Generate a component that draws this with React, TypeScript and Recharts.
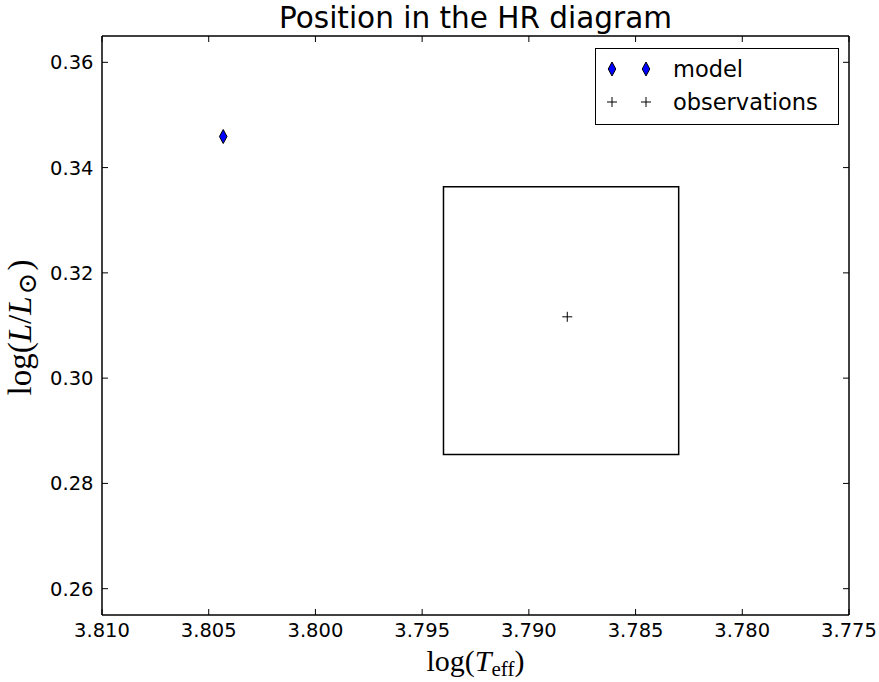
import React from 'react';
import {
    ScatterChart,
    Scatter,
    XAxis,
    YAxis,
    ReferenceArea,
    Legend,
    Label,
} from 'recharts';

// log Teff / log L of the best model and of the observed star
const modelTeff = [3.80432];
const modelLum = [0.3459];
const obsTeff = [3.7882];
const obsLum = [0.31165];

// 1-sigma box around the observation
const obsBoxTeff = [3.794, 3.78298];
const obsBoxLum = [0.28549, 0.33636];

const teffTicks = [3.775, 3.78, 3.785, 3.79, 3.795, 3.8, 3.805, 3.81];
const lumTicks = [0.26, 0.28, 0.3, 0.32, 0.34, 0.36];
const teffDomain = [3.775, 3.81];
const lumDomain = [0.255, 0.365];

const modelData = modelTeff.map((t, i) => ({ teff: t, lum: modelLum[i] }));
const obsData = obsTeff.map((t, i) => ({ teff: t, lum: obsLum[i] }));

const SANS = '"DejaVu Sans", sans-serif';
const SERIF = '"Liberation Serif", "DejaVu Serif", serif';
const TICK_LEN = 6;

const Diamond = ({ cx, cy }: { cx: number; cy: number }) => (
    <polygon
        points={`${cx},${cy - 7} ${cx + 3.8},${cy} ${cx},${cy + 7} ${cx - 3.8},${cy}`}
        fill="#0000ff"
        stroke="#000"
        strokeWidth={1}
    />
);

const Plus = ({ cx, cy }: { cx: number; cy: number }) => (
    <g stroke="#000" strokeWidth={1}>
        <line x1={cx - 5} x2={cx + 5} y1={cy} y2={cy} />
        <line x1={cx} x2={cx} y1={cy - 5} y2={cy + 5} />
    </g>
);

const markers: Record<string, (cx: number, cy: number) => React.ReactNode> = {
    model: (cx, cy) => <Diamond cx={cx} cy={cy} />,
    observations: (cx, cy) => <Plus cx={cx} cy={cy} />,
};

const BottomTick = (props: any) => {
    const { x, y, payload } = props;
    return (
        <g>
            <line x1={x} x2={x} y1={y} y2={y - TICK_LEN} stroke="#000" strokeWidth={1} />
            <text x={x} y={y + 22} textAnchor="middle" fontFamily={SANS} fontSize={19.5} fill="#000">
                {payload.value.toFixed(3)}
            </text>
        </g>
    );
};

const TopTick = (props: any) => {
    const { x, y } = props;
    return <line x1={x} x2={x} y1={y} y2={y + TICK_LEN} stroke="#000" strokeWidth={1} />;
};

const LeftTick = (props: any) => {
    const { x, y, payload } = props;
    return (
        <g>
            <line x1={x} x2={x + TICK_LEN} y1={y} y2={y} stroke="#000" strokeWidth={1} />
            <text x={x - 8.5} y={y} dy="0.36em" textAnchor="end" fontFamily={SANS} fontSize={19.5} fill="#000">
                {payload.value.toFixed(2)}
            </text>
        </g>
    );
};

const RightTick = (props: any) => {
    const { x, y } = props;
    return <line x1={x} x2={x - TICK_LEN} y1={y} y2={y} stroke="#000" strokeWidth={1} />;
};

const LegendBox = (props: any) => {
    const items = (props.payload || []).filter((item: any) => markers[item.value]);
    return (
        <div
            style={{
                width: 244,
                height: 77,
                border: '1.5px solid #000',
                boxSizing: 'border-box',
                background: '#fff',
            }}
        >
            <svg width={241} height={74} style={{ display: 'block' }}>
                {items.map((item: any, i: number) => {
                    const cy = 20 + i * 33;
                    const draw = markers[item.value];
                    return (
                        <g key={item.value}>
                            {draw(16, cy)}
                            {draw(50, cy)}
                            <text x={77} y={cy} dy="0.36em" fontFamily={SANS} fontSize={22.5} fill="#000">
                                {item.value}
                            </text>
                        </g>
                    );
                })}
            </svg>
        </div>
    );
};

const App: React.FC = () => {
    return (
        <div style={{ position: 'absolute', left: 0, top: 0, background: '#fff' }}>
            <ScatterChart width={879} height={682} margin={{ top: 35, right: 29, bottom: 0, left: 0 }}>
                <XAxis
                    dataKey="teff"
                    type="number"
                    domain={teffDomain}
                    ticks={teffTicks}
                    reversed
                    allowDataOverflow
                    height={67}
                    tickSize={0}
                    tickMargin={0}
                    tickLine={false}
                    tick={<BottomTick />}
                    axisLine={{ stroke: '#000', strokeWidth: 1.5 }}
                    interval={0}
                >
                    <Label
                        content={({ viewBox }: any) => (
                            <text
                                x={viewBox.x + viewBox.width / 2}
                                y={viewBox.y + 56}
                                textAnchor="middle"
                                fontFamily={SERIF}
                                fontSize={30}
                                fill="#000"
                            >
                                <tspan>log(</tspan>
                                <tspan fontStyle="italic">T</tspan>
                                <tspan fontSize={21} dy={5}>eff</tspan>
                                <tspan dy={-5}>)</tspan>
                            </text>
                        )}
                    />
                </XAxis>
                <XAxis
                    xAxisId="top"
                    dataKey="teff"
                    orientation="top"
                    type="number"
                    domain={teffDomain}
                    ticks={teffTicks}
                    reversed
                    allowDataOverflow
                    height={1}
                    tickSize={0}
                    tickMargin={0}
                    tickLine={false}
                    tick={<TopTick />}
                    axisLine={{ stroke: '#000', strokeWidth: 1.5 }}
                    interval={0}
                >
                    <Label
                        content={({ viewBox }: any) => (
                            <text
                                x={viewBox.x + viewBox.width / 2}
                                y={viewBox.y - 7}
                                textAnchor="middle"
                                fontFamily={SANS}
                                fontSize={29.5}
                                fill="#000"
                            >
                                Position in the HR diagram
                            </text>
                        )}
                    />
                </XAxis>
                <YAxis
                    dataKey="lum"
                    type="number"
                    domain={lumDomain}
                    ticks={lumTicks}
                    allowDataOverflow
                    width={102}
                    tickSize={0}
                    tickMargin={0}
                    tickLine={false}
                    tick={<LeftTick />}
                    axisLine={{ stroke: '#000', strokeWidth: 1.5 }}
                    interval={0}
                >
                    <Label
                        content={({ viewBox }: any) => {
                            const cx = 31;
                            const cy = viewBox.y + viewBox.height / 2 + 2;
                            return (
                                <text
                                    x={cx}
                                    y={cy}
                                    transform={`rotate(-90 ${cx} ${cy})`}
                                    textAnchor="middle"
                                    fontFamily={SERIF}
                                    fontSize={33}
                                    fill="#000"
                                >
                                    <tspan>log(</tspan>
                                    <tspan fontStyle="italic">L</tspan>
                                    <tspan>/</tspan>
                                    <tspan fontStyle="italic">L</tspan>
                                    <tspan fontSize={26} dy={5} dx={2}>⊙</tspan>
                                    <tspan dy={-5} dx={2}>)</tspan>
                                </text>
                            );
                        }}
                    />
                </YAxis>
                <YAxis
                    yAxisId="right"
                    dataKey="lum"
                    orientation="right"
                    type="number"
                    domain={lumDomain}
                    ticks={lumTicks}
                    allowDataOverflow
                    width={1}
                    tickSize={0}
                    tickMargin={0}
                    tickLine={false}
                    tick={<RightTick />}
                    axisLine={{ stroke: '#000', strokeWidth: 1.5 }}
                    interval={0}
                />
                <ReferenceArea
                    x1={obsBoxTeff[0]}
                    x2={obsBoxTeff[1]}
                    y1={obsBoxLum[0]}
                    y2={obsBoxLum[1]}
                    fill="none"
                    fillOpacity={0}
                    stroke="#000"
                    strokeWidth={1.5}
                    ifOverflow="visible"
                />
                <Scatter
                    name="model"
                    data={modelData}
                    isAnimationActive={false}
                    shape={(p: any) => <Diamond cx={p.cx} cy={p.cy} />}
                />
                <Scatter
                    name="observations"
                    data={obsData}
                    isAnimationActive={false}
                    shape={(p: any) => <Plus cx={p.cx} cy={p.cy} />}
                />
                {/* invisible series so the mirrored top/right axes get drawn */}
                <Scatter
                    name="frame"
                    xAxisId="top"
                    yAxisId="right"
                    data={obsData}
                    legendType="none"
                    isAnimationActive={false}
                    shape={() => <g />}
                />
                <Legend
                    layout="horizontal"
                    verticalAlign="middle"
                    align="center"
                    content={<LegendBox />}
                    wrapperStyle={{ position: 'absolute', left: 595, top: 48, width: 244, height: 77 }}
                />
            </ScatterChart>
        </div>
    );
};

export default App;
